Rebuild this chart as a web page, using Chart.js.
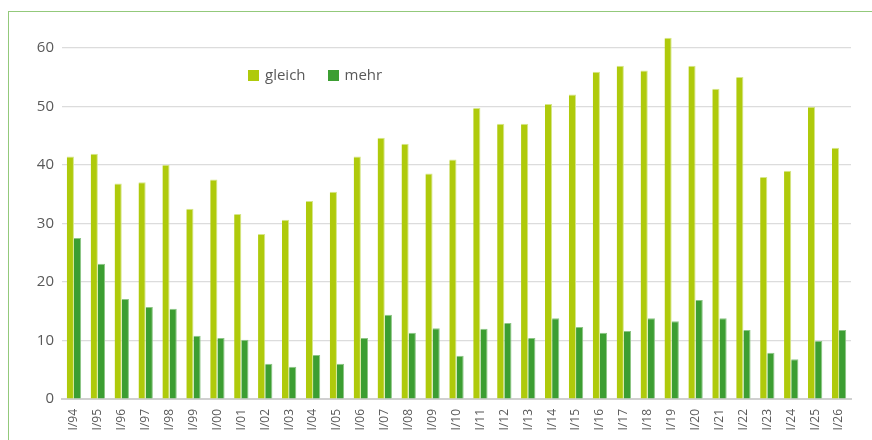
<!DOCTYPE html>
<html>
<head>
<meta charset="utf-8">
<script src="https://cdn.jsdelivr.net/npm/chart.js@4"></script>
<style>
  html, body { margin: 0; padding: 0; background: #fff; }
  #wrap { position: relative; width: 872px; height: 440px; overflow: hidden; }
  #frame { position: absolute; left: 8px; top: 11px; width: 900px; height: 500px;
           border-left: 1.5px solid #93c97b; border-top: 1.5px solid #93c97b; }
  #legend { position: absolute; left: 248px; top: 64px; font-family: "Open Sans", sans-serif;
            font-size: 15px; color: #595959; display: flex; gap: 22px; }
  #legend span.box { display: inline-block; width: 11px; height: 11px; margin-right: 6px; vertical-align: -1px; }
  canvas { position: absolute; left: 0; top: 0; }
</style>
</head>
<body>
<div id="wrap">
  <div id="frame"></div>
  <canvas id="myChart" width="872" height="440"></canvas>
  <div id="legend"></div>
</div>
<script>
const jahre = ['I/94','I/95','I/96','I/97','I/98','I/99','I/00','I/01','I/02','I/03','I/04','I/05','I/06','I/07','I/08','I/09','I/10','I/11','I/12','I/13','I/14','I/15','I/16','I/17','I/18','I/19','I/20','I/21','I/22','I/23','I/24','I/25','I/26'];
const gleich = [41.4,41.9,36.8,37,40,32.5,37.5,31.6,28.2,30.6,33.8,35.4,41.4,44.6,43.6,38.5,40.9,49.7,47,47,50.4,52,55.9,56.9,56.1,61.7,56.9,53,55,37.9,39,49.9,42.9];
const mehr = [27.5,23.1,17.1,15.7,15.4,10.8,10.4,10.1,6,5.5,7.5,6,10.4,14.4,11.3,12.1,7.4,12,13,10.4,13.8,12.3,11.3,11.6,13.8,13.3,16.9,13.8,11.8,7.9,6.8,9.9,11.8];
const yTicks = [0,10,20,30,40,50,60];

const farbeGleich = '#afca0b';
const farbeMehr = '#3c9e32';
const ctx = document.getElementById('myChart');

const chart = new Chart(ctx, {
    type: 'bar',
    data: {
        labels: jahre,
        datasets: [
            { label: 'gleich', data: gleich, backgroundColor: farbeGleich, borderColor: '#d6e68a', borderWidth: {left: 0, right: 1, top: 1, bottom: 0}, categoryPercentage: 0.6, barPercentage: 1 },
            { label: 'mehr', data: mehr, backgroundColor: farbeMehr, borderColor: '#8cc585', borderWidth: {left: 0, right: 1, top: 1, bottom: 0}, categoryPercentage: 0.6, barPercentage: 1 }
        ]
    },
    options: {
        responsive: false,
        animation: false,
        layout: { padding: { top: 36, right: 21, left: 0, bottom: 0 } },
        plugins: { legend: { display: false }, tooltip: { enabled: false } },
        scales: {
            x: {
                grid: { display: false },
                border: { color: '#d0d0d0', width: 2 },
                ticks: { color: '#595959', font: { family: 'Open Sans', size: 12 }, minRotation: 90, maxRotation: 90, padding: 2 },
                afterFit: (scale) => { scale.height = 41; }
            },
            y: {
                min: 0,
                max: 62,
                grid: { color: '#dcdcdc', lineWidth: 1.2, drawTicks: false },
                border: { display: false },
                ticks: { color: '#595959', font: { family: 'Open Sans', size: 15 }, padding: 8 },
                afterBuildTicks: (scale) => { scale.ticks = yTicks.map(v => ({ value: v })); },
                afterFit: (scale) => { scale.width = 62; }
            }
        }
    }
});

// Legende als HTML
const legend = document.getElementById('legend');
chart.data.datasets.forEach((ds) => {
    const item = document.createElement('div');
    item.innerHTML = '<span class="box" style="background:' + ds.backgroundColor + '"></span>' + ds.label;
    legend.appendChild(item);
});
</script>
</body>
</html>
